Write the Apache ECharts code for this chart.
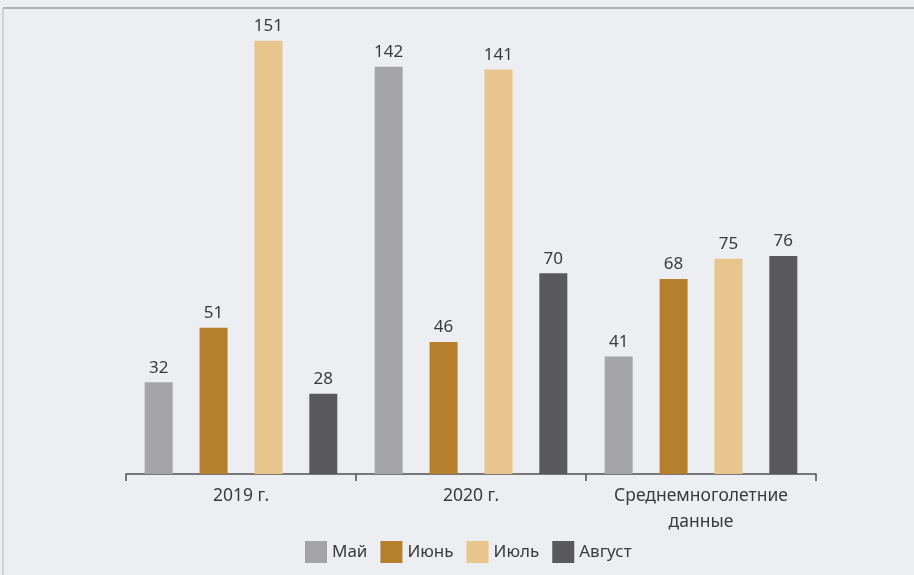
<!DOCTYPE html>
<html>
<head>
<meta charset="utf-8">
<style>
  html, body { margin: 0; padding: 0; background: #eceef1; }
  #chart { width: 914px; height: 575px; }
</style>
<script src="https://cdn.jsdelivr.net/npm/echarts@6/dist/echarts.min.js"></script>
</head>
<body>
<div id="chart"></div>
<script>
// Categories and monthly values
const categories = ['2019 г.', '2020 г.', 'Среднемноголетние\nданные'];
const seriesNames = ['Май', 'Июнь', 'Июль', 'Август'];
const may = [32, 142, 41];
const june = [51, 46, 68];
const july = [151, 141, 75];
const august = [28, 70, 76];
const colors = ['#a5a5a8', '#b57f2e', '#e8c58d', '#59585c'];

const values = [may, june, july, august];
const chart = echarts.init(document.getElementById('chart'));

const textFont = '"Noto Sans", "Open Sans", sans-serif';

chart.setOption({
  backgroundColor: '#eceef1',
  animation: false,
  textStyle: { fontFamily: textFont },
  grid: { left: 126, right: 98, top: 15, bottom: 101 },
  graphic: [
    { type: 'line', shape: { x1: 3, y1: 8, x2: 914, y2: 8 }, style: { stroke: '#9c9ea2', lineWidth: 1.5 } },
    { type: 'line', shape: { x1: 3, y1: 8, x2: 3, y2: 575 }, style: { stroke: '#b4b6ba', lineWidth: 1 } }
  ],
  legend: {
    top: 541,
    left: 305,
    padding: 0,
    itemWidth: 22,
    itemHeight: 22,
    itemGap: 13,
    icon: 'rect',
    textStyle: { fontSize: 17, color: '#3b3a3c', fontFamily: textFont },
    data: seriesNames
  },
  xAxis: {
    type: 'category',
    data: categories,
    axisLine: { show: true, lineStyle: { color: '#505053', width: 1.5 } },
    axisTick: { show: true, length: 7, lineStyle: { color: '#505053', width: 1.5 } },
    axisLabel: { fontSize: 17.5, color: '#3b3a3c', margin: 9, lineHeight: 26, fontFamily: textFont }
  },
  yAxis: {
    type: 'value',
    min: 0,
    max: 160,
    show: false,
    splitLine: { show: false }
  },
  series: seriesNames.map((name, i) => ({
    name: name,
    type: 'bar',
    data: values[i],
    barWidth: 28,
    barGap: '96%',
    itemStyle: { color: colors[i] },
    label: {
      show: true,
      position: 'top',
      distance: 6,
      fontSize: 17,
      color: '#3b3a3c',
      fontFamily: textFont
    }
  }))
});
</script>
</body>
</html>
